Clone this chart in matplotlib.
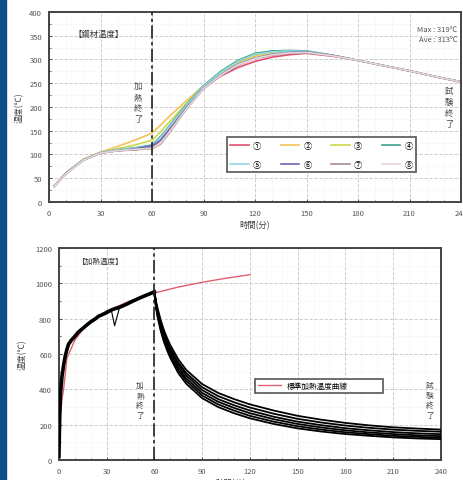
import matplotlib
matplotlib.use("Agg")
import matplotlib.pyplot as plt
from matplotlib.patches import Rectangle
from matplotlib.ticker import MultipleLocator

plt.rcParams['font.family'] = ['Noto Sans CJK JP', 'DejaVu Sans']

# ---- top chart: steel temperature ----
top_t = [3, 10, 20, 30, 40, 50, 60, 65, 70, 80, 90, 100, 110, 120, 130, 140, 150,
         165, 180, 195, 210, 225, 240]
top_labels = ['①', '②', '③', '④', '⑤', '⑥', '⑦', '⑧']
top_colors = ['#e0506e', '#f0c45a', '#cfd84a', '#3fa08a',
              '#8fdbe3', '#6a6ab8', '#a88a98', '#e6d6d6']
top_vals = [
    [33, 60, 88, 103, 108, 110, 114, 130, 155, 200, 240, 265, 283, 296, 305, 310, 313, 307, 298, 287, 276, 264, 253],
    [34, 62, 90, 105, 117, 130, 145, 162, 180, 213, 245, 272, 293, 307, 313, 316, 316, 309, 298, 287, 276, 264, 252],
    [33, 61, 89, 104, 112, 120, 130, 148, 168, 207, 244, 272, 295, 310, 316, 318, 317, 309, 298, 287, 276, 264, 253],
    [33, 61, 89, 104, 110, 114, 120, 138, 160, 205, 245, 275, 298, 313, 318, 319, 318, 309, 298, 287, 276, 264, 253],
    [33, 61, 89, 104, 110, 113, 118, 136, 158, 203, 244, 273, 296, 311, 316, 318, 317, 309, 298, 287, 276, 264, 253],
    [33, 61, 88, 103, 108, 112, 118, 130, 150, 198, 240, 268, 290, 303, 311, 315, 316, 309, 298, 287, 276, 264, 253],
    [33, 60, 88, 103, 108, 110, 112, 122, 145, 195, 238, 266, 288, 302, 309, 313, 314, 308, 298, 287, 276, 264, 253],
    [33, 60, 88, 103, 108, 111, 113, 124, 147, 196, 239, 267, 289, 302, 310, 314, 315, 308, 298, 287, 276, 264, 253],
]
top_max = 319
top_ave = 313

# ---- bottom chart: furnace temperature ----
iso_t = [0, 1, 2, 3, 5, 10, 15, 20, 30, 45, 60, 75, 90, 105, 120]
iso_T = [20, 261, 349, 404, 576, 678, 739, 781, 842, 902, 945, 979, 1006, 1029, 1049]

heat_t = [0, 0.5, 1, 2, 3, 4, 5, 6, 8, 10, 12, 15, 18, 20, 23, 25, 28, 30, 33, 35,
          38, 40, 43, 45, 48, 50, 53, 55, 58, 60]
heat_T = [20, 250, 380, 480, 540, 590, 625, 655, 680, 700, 722, 745, 768, 782, 800, 814,
          826, 835, 849, 856, 864, 872, 884, 893, 906, 914, 926, 933, 944, 952]
heat_T2 = [20, 240, 370, 470, 535, 585, 630, 650, 685, 705, 716, 750, 762, 788, 795, 820,
           820, 842, 845, 760, 860, 878, 880, 900, 900, 920, 920, 940, 940, 948]

cool_t = [60, 61, 62, 64, 66, 68, 70, 75, 80, 90, 100, 110, 120, 135, 150, 165, 180,
          195, 210, 225, 240]
cool_vals = [
    [950, 900, 860, 790, 735, 690, 650, 570, 510, 430, 380, 345, 315, 280, 250, 228, 210, 196, 185, 178, 172],
    [945, 890, 845, 775, 718, 672, 632, 552, 492, 412, 362, 327, 297, 262, 233, 212, 195, 182, 172, 165, 160],
    [948, 885, 838, 765, 706, 660, 620, 538, 478, 396, 345, 310, 280, 245, 217, 197, 180, 168, 158, 151, 146],
    [940, 875, 828, 752, 694, 646, 605, 522, 462, 380, 330, 295, 265, 231, 204, 184, 168, 156, 147, 140, 135],
    [942, 870, 820, 742, 682, 634, 592, 508, 448, 365, 315, 280, 250, 217, 191, 172, 157, 146, 137, 131, 126],
    [938, 862, 810, 730, 668, 620, 578, 492, 432, 350, 300, 265, 236, 204, 179, 161, 147, 137, 128, 122, 118],
]

fig = plt.figure(figsize=(4.64, 4.81), dpi=100)
fig.patches.append(Rectangle((0, 0), 0.014, 1, transform=fig.transFigure,
                             color='#0e4f8a', zorder=10))


def style_axes(ax, ymax, ystep, yminor):
    ax.set_xlim(0, 240)
    ax.set_ylim(0, ymax)
    ax.xaxis.set_major_locator(MultipleLocator(30))
    ax.xaxis.set_minor_locator(MultipleLocator(10))
    ax.yaxis.set_major_locator(MultipleLocator(ystep))
    ax.yaxis.set_minor_locator(MultipleLocator(yminor))
    ax.grid(True, which='major', color='#c4c4c4', lw=0.6, ls=(0, (4, 2)))
    ax.grid(True, which='minor', color='#e4e4e4', lw=0.4, ls=':')
    ax.tick_params(which='both', direction='in', labelsize=5.5, labelcolor='#555555',
                   color='#555555', length=2.5, pad=5)
    ax.tick_params(which='minor', length=1.5)
    for s in ax.spines.values():
        s.set_linewidth(1.4)
        s.set_color('#444444')
    ax.axvline(60, color='#222222', lw=1.2, ls=(0, (8, 2, 2, 2)), zorder=4)


# top
ax1 = fig.add_axes([0.1056, 0.578, 0.888, 0.395])
style_axes(ax1, 400, 50, 25)
lines = []
for vals, c, lab in zip(top_vals, top_colors, top_labels):
    ln, = ax1.plot(top_t, vals, color=c, lw=1.2, label=lab)
    lines.append(ln)
ax1.set_ylabel('温度(℃)', fontsize=6, color='#444444', labelpad=4)
ax1.set_xlabel('時間(分)', fontsize=6, color='#444444', labelpad=2)
ax1.text(14, 355, '【鋼材温度】', fontsize=6, color='#333333', va='center')
ax1.text(238, 373, 'Max : %d℃\nAve : %d℃' % (top_max, top_ave), fontsize=5.5,
         color='#555555', ha='right', va='top', linespacing=1.4)
ax1.text(52, 210, '加\n熱\n終\n了', fontsize=6, color='#444444', ha='center',
         va='center', linespacing=1.3)
ax1.text(233, 200, '試\n験\n終\n了', fontsize=6, color='#444444', ha='center',
         va='center', linespacing=1.3)
# legend fills column by column: reorder so rows read ①-④ / ⑤-⑧
order = [0, 4, 1, 5, 2, 6, 3, 7]
leg1 = ax1.legend([lines[i] for i in order], [top_labels[i] for i in order],
                  ncol=4, loc='lower left', bbox_to_anchor=(0.432, 0.158, 0.459, 0.247),
                  mode='expand', fontsize=6, frameon=True, fancybox=False,
                  edgecolor='#555555', framealpha=1, handlelength=2.2,
                  handletextpad=0.5, borderaxespad=0, labelspacing=1.2)
leg1.get_frame().set_linewidth(1.2)

# bottom
ax2 = fig.add_axes([0.127, 0.0416, 0.823, 0.4407])
style_axes(ax2, 1200, 200, 100)
ax2.plot(iso_t, iso_T, color='#e06070', lw=1.0, zorder=2, label='標準加熱温度曲線')
for vals in cool_vals:
    ax2.plot(heat_t + cool_t[1:], heat_T + vals[1:], color='black', lw=1.3, zorder=3)
ax2.plot(heat_t, heat_T, color='black', lw=2.6, zorder=3)
ax2.plot(heat_t, heat_T2, color='black', lw=0.8, zorder=3)
ax2.set_ylabel('温度(℃)', fontsize=6, color='#444444', labelpad=6)
ax2.set_xlabel('時間(分)', fontsize=6, color='#444444', labelpad=1)
ax2.xaxis.set_label_coords(0.45, -0.085)
ax2.text(12, 1125, '【加熱温度】', fontsize=5.5, color='#333333', va='center')
ax2.text(51, 340, '加\n熱\n終\n了', fontsize=5.5, color='#444444', ha='center',
         va='center', linespacing=1.3)
ax2.text(233, 340, '試\n験\n終\n了', fontsize=5.5, color='#444444', ha='center',
         va='center', linespacing=1.3)
leg2 = ax2.legend(loc='lower left', bbox_to_anchor=(0.513, 0.316, 0.335, 0.09),
                  mode='expand', fontsize=5.5, frameon=True, fancybox=False,
                  edgecolor='#555555', framealpha=1, handlelength=3,
                  borderaxespad=0)
leg2.get_frame().set_linewidth(1.2)

fig.savefig('out.png', dpi=100)
